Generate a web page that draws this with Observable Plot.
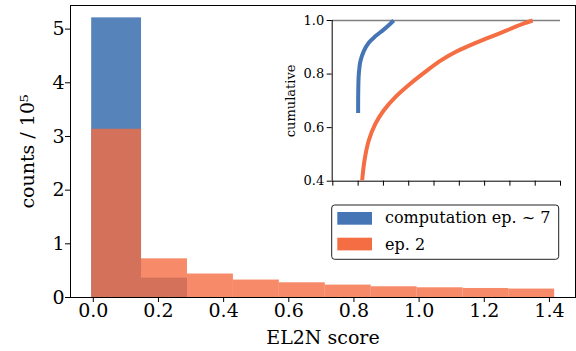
<!DOCTYPE html>
<html><head><meta charset="utf-8">
<script src="https://cdn.jsdelivr.net/npm/d3@7"></script>
<script src="https://cdn.jsdelivr.net/npm/@observablehq/plot@0.6"></script>
<style>
body{margin:0;padding:0;background:white;}
#wrap{position:relative;width:576px;height:351px;font-family:"DejaVu Serif";}
#inset{position:absolute;left:280px;top:0;}
#legend{position:absolute;left:331px;top:204px;}
#main svg text{font-family:"DejaVu Serif";font-size:19px;}
#inset svg text{font-family:"DejaVu Serif";font-size:13px;}
#legend svg text{font-family:"DejaVu Serif";font-size:16px;}
</style></head><body><div id="wrap"><div id="main"></div><div id="inset"></div><div id="legend"></div></div>
<script>
// histogram bin edges (EL2N score)
const binEdges = [-0.005, 0.148, 0.289, 0.430, 0.571, 0.712, 0.853, 0.994, 1.135, 1.275, 1.416];
// counts / 10^5
const blueCounts = [5.21, 0.36];
const orangeCounts = [3.134, 0.72, 0.437, 0.325, 0.274, 0.231, 0.200, 0.181, 0.168, 0.157];
const seriesNames = ["computation ep. ~ 7", "ep. 2"];
const seriesColors = ["#4575b4", "#f46d43"];
const xTicks = [0.0, 0.2, 0.4, 0.6, 0.8, 1.0, 1.2, 1.4];
const yTicks = [0, 1, 2, 3, 4, 5];
// inset cumulative curves
const blueCumX = [0.0, 0.001, 0.005, 0.018, 0.044, 0.084, 0.136, 0.202, 0.255, 0.281];
const blueCumY = [0.655, 0.736, 0.798, 0.848, 0.885, 0.917, 0.941, 0.966, 0.988, 1.0];
const orangeCumX = [0.032, 0.050, 0.084, 0.136, 0.202, 0.294, 0.412, 0.544, 0.655, 0.781, 0.912, 1.043, 1.175, 1.306, 1.380];
const orangeCumY = [0.403, 0.477, 0.552, 0.614, 0.664, 0.714, 0.764, 0.813, 0.851, 0.885, 0.913, 0.938, 0.963, 0.988, 1.0];
const insetXTicks = [-0.2, 0, 0.2, 0.4, 0.6, 0.8, 1.0, 1.2, 1.4, 1.6];
const insetYTicks = [0.4, 0.6, 0.8, 1.0];

const blueBins = blueCounts.map((c, i) => ({x1: binEdges[i], x2: binEdges[i + 1], y: c}));
const orangeBins = orangeCounts.map((c, i) => ({x1: binEdges[i], x2: binEdges[i + 1], y: c}));
const blueCum = blueCumX.map((x, i) => ({x, y: blueCumY[i]}));
const orangeCum = orangeCumX.map((x, i) => ({x, y: orangeCumY[i]}));

const font = "'DejaVu Serif', serif";

const main = Plot.plot({
  width: 576, height: 351,
  marginLeft: 70, marginRight: 1, marginTop: 5, marginBottom: 54,
  style: {fontFamily: font, fontSize: "19px", background: "transparent", overflow: "visible"},
  x: {domain: [-0.070, 1.480]},
  y: {domain: [0, 5.44]},
  marks: [
    Plot.rectY(blueBins, {x1: "x1", x2: "x2", y: "y", fill: seriesColors[0], fillOpacity: 0.9}),
    Plot.rectY(orangeBins, {x1: "x1", x2: "x2", y: "y", fill: seriesColors[1], fillOpacity: 0.8}),
    Plot.frame({stroke: "black", strokeWidth: 1}),
    Plot.axisX({ticks: xTicks, tickFormat: d3.format(".1f"), tickSize: 5, tickPadding: 1, label: null, fontSize: 19}),
    Plot.axisY({ticks: yTicks, tickFormat: d3.format("d"), tickSize: 5, tickPadding: 1, label: null, fontSize: 19}),
    Plot.text(["EL2N score"], {frameAnchor: "bottom", lineAnchor: "middle", textAnchor: "middle", dy: 40, fontSize: 19}),
    Plot.text(["counts / 10⁵"], {frameAnchor: "left", lineAnchor: "middle", textAnchor: "middle", dx: -42.8, rotate: -90, fontSize: 19})
  ]
});
document.getElementById("main").appendChild(main);

const inset = Plot.plot({
  width: 296, height: 200,
  marginLeft: 51.7, marginRight: 16, marginTop: 20, marginBottom: 19.3,
  style: {fontFamily: font, fontSize: "13px", background: "transparent", overflow: "visible"},
  x: {domain: [-0.205, 1.6]},
  y: {domain: [0.4, 1.0]},
  marks: [
    Plot.ruleY([1.0], {stroke: "#808080", strokeWidth: 1.5}),
    Plot.ruleX([-0.205], {stroke: "black", strokeWidth: 1}),
    Plot.ruleY([0.4], {stroke: "black", strokeWidth: 1}),
    Plot.line(blueCum, {x: "x", y: "y", stroke: seriesColors[0], strokeWidth: 4, curve: "catmull-rom", strokeLinecap: "butt"}),
    Plot.line(orangeCum, {x: "x", y: "y", stroke: seriesColors[1], strokeWidth: 4, curve: "catmull-rom", strokeLinecap: "butt"}),
    Plot.axisX({ticks: insetXTicks, tickFormat: () => "", tickSize: 5, label: null}),
    Plot.axisY({ticks: insetYTicks, tickFormat: d3.format(".1f"), tickSize: 5, tickPadding: 3, label: null, fontSize: 13}),
    Plot.text(["cumulative"], {frameAnchor: "left", lineAnchor: "middle", textAnchor: "middle", dx: -40.9, rotate: -90, fontSize: 13})
  ]
});
document.getElementById("inset").appendChild(inset);

// legend
const lg = d3.select("#legend").append("svg").attr("width", 230).attr("height", 58)
  .style("overflow", "visible");
lg.append("rect").attr("x", 0.7).attr("y", 1).attr("width", 227).attr("height", 54.3)
  .attr("rx", 3).attr("fill", "white").attr("stroke", "#222").attr("stroke-width", 1);
seriesNames.forEach((name, i) => {
  lg.append("rect").attr("x", 6.3).attr("y", 8 + i * 25.7).attr("width", 34.7).attr("height", 12.7)
    .attr("fill", seriesColors[i]);
  lg.append("text").attr("x", 54).attr("y", 19.3 + i * 26.7)
    .attr("font-family", "DejaVu Serif").attr("font-size", 16).attr("fill", "black").text(name);
});
</script>
</body></html>
